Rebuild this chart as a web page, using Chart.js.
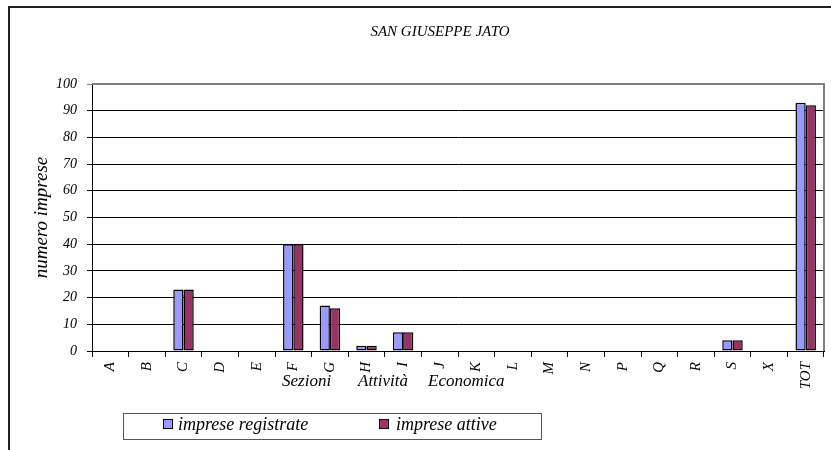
<!DOCTYPE html>
<html>
<head>
<meta charset="utf-8">
<script src="https://cdn.jsdelivr.net/npm/chart.js@4/dist/chart.umd.min.js"></script>
<style>
  html, body { margin: 0; padding: 0; background: #fff; overflow: hidden; }
  #wrap { position: relative; width: 831px; height: 450px; }
  #frame { position: absolute; left: 8px; top: 6px; width: 900px; height: 500px;
           border-left: 2px solid #222; border-top: 2px solid #222; }
  canvas { position: absolute; left: 0; top: 0; }
</style>
</head>
<body>
<div id="wrap">
  <div id="frame"></div>
  <canvas id="c" width="831" height="450"></canvas>
</div>
<script>
const chartTitle = "SAN GIUSEPPE JATO";
const xAxisTitle = "Sezioni Attività Economica";
const yAxisTitle = "numero imprese";
const categories = ["A","B","C","D","E","F","G","H","I","J","K","L","M","N","P","Q","R","S","X","TOT"];
const impreseRegistrate = [0,0,23,0,0,40,17,2,7,0,0,0,0,0,0,0,0,4,0,93];
const impreseAttive     = [0,0,23,0,0,40,16,2,7,0,0,0,0,0,0,0,0,4,0,92];
const seriesNames = ["imprese registrate", "imprese attive"];
const seriesColors = ["#9999FF", "#993366"];

const SERIF = "'Liberation Serif', 'Times New Roman', serif";

const decorPlugin = {
  id: 'decor',
  afterDraw(chart) {
    const ctx = chart.ctx;
    const a = chart.chartArea;
    ctx.save();
    // plot area border (top & right) gray
    ctx.strokeStyle = '#808080';
    ctx.lineWidth = 2;
    ctx.beginPath();
    ctx.moveTo(a.left, a.top);
    ctx.lineTo(a.right, a.top);
    ctx.lineTo(a.right, a.bottom);
    ctx.stroke();
    // title
    ctx.fillStyle = '#000';
    ctx.font = "italic 15px " + SERIF;
    ctx.textAlign = 'center';
    ctx.textBaseline = 'middle';
    ctx.fillText(chartTitle, 440, 32);
    // x axis title (words spread as in the original)
    ctx.font = "italic 17px " + SERIF;
    ctx.textAlign = 'left';
    const starts = [282, 358, 428];
    xAxisTitle.split(' ').forEach((w, i) => ctx.fillText(w, starts[i], 382));
    // legend box
    ctx.strokeStyle = '#555';
    ctx.lineWidth = 1;
    ctx.strokeRect(123.5, 413.5, 418, 26);
    const items = [{x: 163, tx: 178}, {x: 379, tx: 396}];
    chart.data.datasets.forEach((ds, i) => {
      const it = items[i];
      ctx.fillStyle = ds.backgroundColor;
      ctx.fillRect(it.x, 419, 9, 9);
      ctx.strokeStyle = '#000';
      ctx.strokeRect(it.x + 0.5, 419.5, 9, 9);
      ctx.fillStyle = '#000';
      ctx.textAlign = 'left';
      ctx.font = "italic 18px " + SERIF;
      ctx.fillText(ds.label, it.tx, 425);
    });
    ctx.restore();
  }
};

new Chart(document.getElementById('c'), {
  type: 'bar',
  data: {
    labels: categories,
    datasets: [
      { label: seriesNames[0], data: impreseRegistrate, backgroundColor: seriesColors[0],
        borderColor: '#000', borderWidth: 1.5, borderSkipped: false,
        barPercentage: 1.0, categoryPercentage: 0.56 },
      { label: seriesNames[1], data: impreseAttive, backgroundColor: seriesColors[1],
        borderColor: '#000', borderWidth: 1.5, borderSkipped: false,
        barPercentage: 1.0, categoryPercentage: 0.56 }
    ]
  },
  options: {
    responsive: false,
    animation: false,
    devicePixelRatio: 1,
    layout: { padding: { top: 84, right: 7, left: 0, bottom: 0 } },
    plugins: {
      legend: { display: false },
      title: { display: false },
      tooltip: { enabled: false }
    },
    scales: {
      x: {
        offset: true,
        grid: { offset: true, drawOnChartArea: false, drawTicks: true, tickLength: 6, color: '#000' },
        border: { color: '#000', width: 1 },
        ticks: { color: '#000', maxRotation: 90, minRotation: 90, padding: 5,
                 font: { family: SERIF, style: 'italic', size: 15 } },
        afterFit(scale) { scale.height = 99; }
      },
      y: {
        min: 0, max: 100,
        grid: { color: (c) => c.tick && c.tick.value === 100 ? '#808080' : '#000',
                tickLength: 5, lineWidth: 1 },
        border: { color: '#000', width: 1 },
        ticks: { stepSize: 10, color: '#000', padding: 10,
                 font: { family: SERIF, style: 'italic', size: 14 } },
        title: { display: true, text: yAxisTitle, color: '#000', padding: { top: 31, bottom: 0 },
                 font: { family: SERIF, style: 'italic', size: 19 } },
        afterFit(scale) { scale.width = 92; }
      }
    }
  },
  plugins: [decorPlugin]
});
</script>
</body>
</html>
